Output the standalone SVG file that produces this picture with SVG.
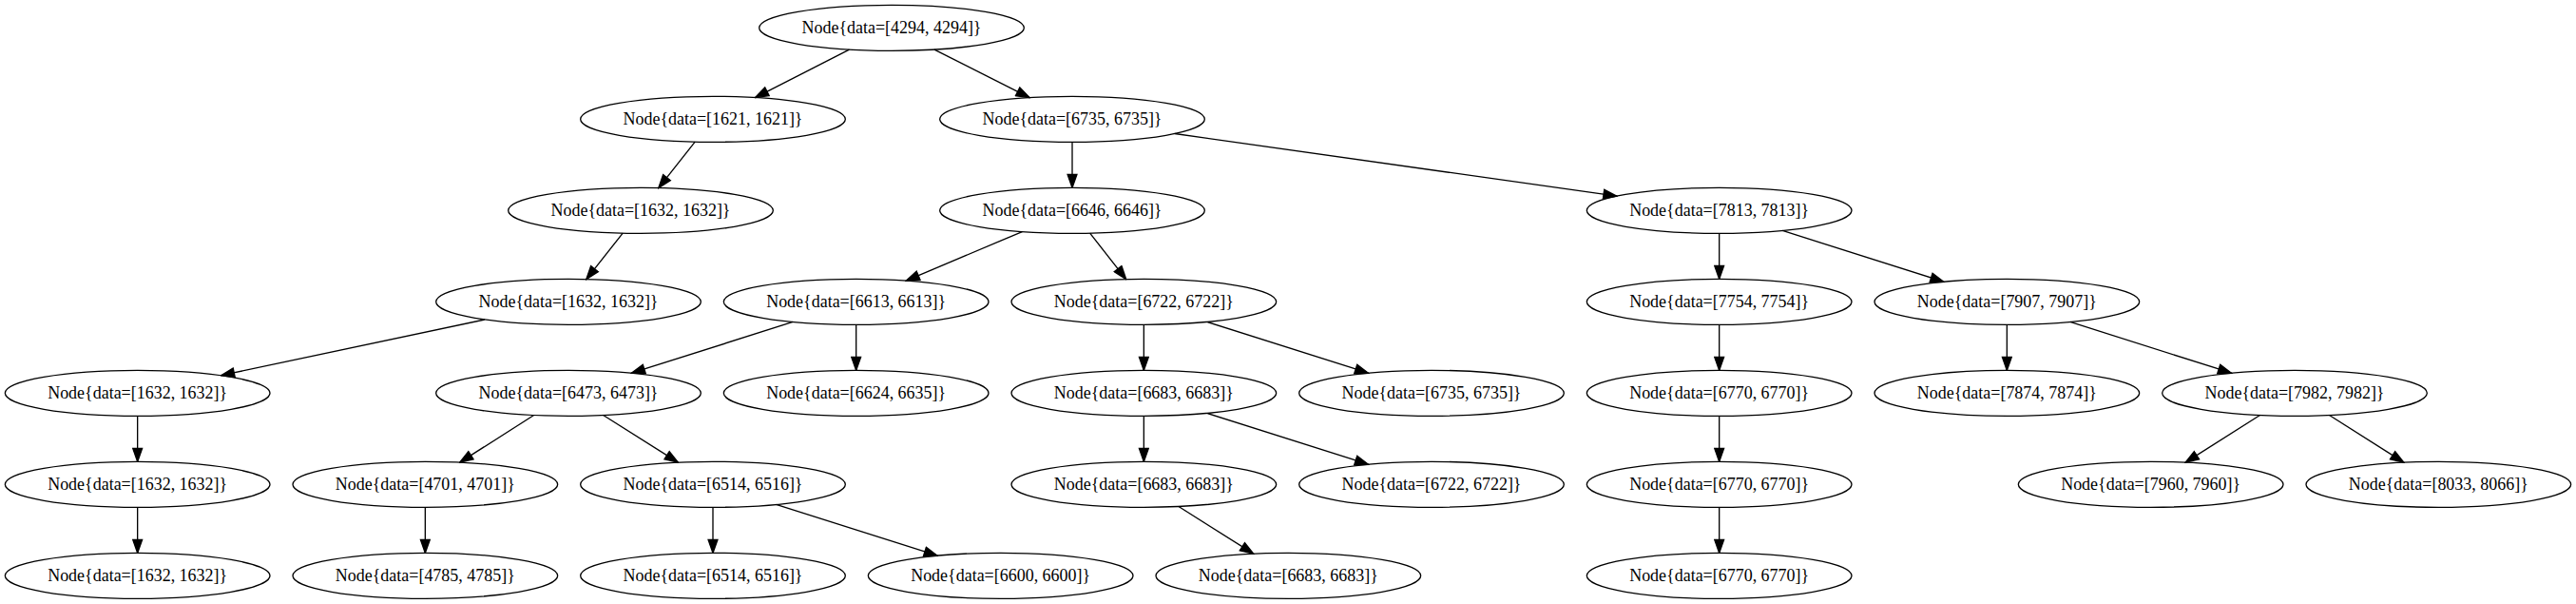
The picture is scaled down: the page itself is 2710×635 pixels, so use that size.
<svg xmlns="http://www.w3.org/2000/svg" width="2710" height="635" viewBox="0 0 2710 635">
<style>
.node ellipse{fill:none;stroke:#000;stroke-width:1.33}
.node text{font-family:"Liberation Serif","Times New Roman",serif;font-size:18.67px;text-anchor:middle;fill:#000}
#edges path{fill:none;stroke:#000;stroke-width:1.33;marker-end:url(#arr)}
</style>
<defs>
<marker id="arr" markerUnits="userSpaceOnUse" markerWidth="16" markerHeight="12" viewBox="-1 -1 15.33 11.33" refX="13.33" refY="4.67" orient="auto">
<path d="M0,0 L13.33,4.67 L0,9.33 Z" fill="#000" stroke="#000" stroke-width="1.33"/>
</marker>
</defs>
<rect width="2710" height="635" fill="#fff"/>
<g id="edges">
<path d="M893.46,52.07 L794.54,102.59"/>
<path d="M982.96,52.05 L1083.04,102.61"/>
<path d="M731.17,149.11 L692.83,197.55"/>
<path d="M655.17,245.11 L616.83,293.55"/>
<path d="M510.08,335.95 L232.59,394.71"/>
<path d="M144.67,437.33 L144.67,485.33"/>
<path d="M144.67,533.33 L144.67,581.33"/>
<path d="M1128,149.33 L1128,197.33"/>
<path d="M1235.8,140.53 L1700.87,206.13"/>
<path d="M1075.38,243.55 L953.29,295.11"/>
<path d="M1146.66,245.11 L1184.67,293.55"/>
<path d="M834.18,338.42 L664.49,392.24"/>
<path d="M900.67,341.33 L900.67,389.33"/>
<path d="M561.64,436.5 L483.69,486.16"/>
<path d="M634.66,436.48 L713.34,486.18"/>
<path d="M447.33,533.33 L447.33,581.33"/>
<path d="M750,533.33 L750,581.33"/>
<path d="M816.49,530.42 L986.18,584.24"/>
<path d="M1203.33,341.33 L1203.33,389.33"/>
<path d="M1269.82,338.42 L1439.51,392.24"/>
<path d="M1203.33,437.33 L1203.33,485.33"/>
<path d="M1269.82,434.42 L1439.51,488.24"/>
<path d="M1239.99,532.48 L1318.67,582.18"/>
<path d="M1808.67,245.33 L1808.67,293.33"/>
<path d="M1875.16,242.42 L2044.84,296.24"/>
<path d="M1808.67,341.33 L1808.67,389.33"/>
<path d="M1808.67,437.33 L1808.67,485.33"/>
<path d="M1808.67,533.33 L1808.67,581.33"/>
<path d="M2111.33,341.33 L2111.33,389.33"/>
<path d="M2177.82,338.42 L2347.51,392.24"/>
<path d="M2377.49,436.49 L2299.18,486.17"/>
<path d="M2450.51,436.49 L2528.82,486.17"/>
</g>
<g id="n0" class="node"><ellipse cx="938" cy="29.33" rx="139.33" ry="24"/><text x="938" y="35.33" textLength="189" lengthAdjust="spacingAndGlyphs">Node{data=[4294, 4294]}</text></g>
<g id="n1" class="node"><ellipse cx="750" cy="125.33" rx="139.33" ry="24"/><text x="750" y="131.33" textLength="189" lengthAdjust="spacingAndGlyphs">Node{data=[1621, 1621]}</text></g>
<g id="n2" class="node"><ellipse cx="1128" cy="125.33" rx="139.33" ry="24"/><text x="1128" y="131.33" textLength="189" lengthAdjust="spacingAndGlyphs">Node{data=[6735, 6735]}</text></g>
<g id="n3" class="node"><ellipse cx="674" cy="221.33" rx="139.33" ry="24"/><text x="674" y="227.33" textLength="189" lengthAdjust="spacingAndGlyphs">Node{data=[1632, 1632]}</text></g>
<g id="n4" class="node"><ellipse cx="1128" cy="221.33" rx="139.33" ry="24"/><text x="1128" y="227.33" textLength="189" lengthAdjust="spacingAndGlyphs">Node{data=[6646, 6646]}</text></g>
<g id="n5" class="node"><ellipse cx="1808.67" cy="221.33" rx="139.33" ry="24"/><text x="1808.67" y="227.33" textLength="189" lengthAdjust="spacingAndGlyphs">Node{data=[7813, 7813]}</text></g>
<g id="n6" class="node"><ellipse cx="598" cy="317.33" rx="139.33" ry="24"/><text x="598" y="323.33" textLength="189" lengthAdjust="spacingAndGlyphs">Node{data=[1632, 1632]}</text></g>
<g id="n7" class="node"><ellipse cx="900.67" cy="317.33" rx="139.33" ry="24"/><text x="900.67" y="323.33" textLength="189" lengthAdjust="spacingAndGlyphs">Node{data=[6613, 6613]}</text></g>
<g id="n8" class="node"><ellipse cx="1203.33" cy="317.33" rx="139.33" ry="24"/><text x="1203.33" y="323.33" textLength="189" lengthAdjust="spacingAndGlyphs">Node{data=[6722, 6722]}</text></g>
<g id="n9" class="node"><ellipse cx="1808.67" cy="317.33" rx="139.33" ry="24"/><text x="1808.67" y="323.33" textLength="189" lengthAdjust="spacingAndGlyphs">Node{data=[7754, 7754]}</text></g>
<g id="n10" class="node"><ellipse cx="2111.33" cy="317.33" rx="139.33" ry="24"/><text x="2111.33" y="323.33" textLength="189" lengthAdjust="spacingAndGlyphs">Node{data=[7907, 7907]}</text></g>
<g id="n11" class="node"><ellipse cx="144.67" cy="413.33" rx="139.33" ry="24"/><text x="144.67" y="419.33" textLength="189" lengthAdjust="spacingAndGlyphs">Node{data=[1632, 1632]}</text></g>
<g id="n12" class="node"><ellipse cx="598" cy="413.33" rx="139.33" ry="24"/><text x="598" y="419.33" textLength="189" lengthAdjust="spacingAndGlyphs">Node{data=[6473, 6473]}</text></g>
<g id="n13" class="node"><ellipse cx="900.67" cy="413.33" rx="139.33" ry="24"/><text x="900.67" y="419.33" textLength="189" lengthAdjust="spacingAndGlyphs">Node{data=[6624, 6635]}</text></g>
<g id="n14" class="node"><ellipse cx="1203.33" cy="413.33" rx="139.33" ry="24"/><text x="1203.33" y="419.33" textLength="189" lengthAdjust="spacingAndGlyphs">Node{data=[6683, 6683]}</text></g>
<g id="n15" class="node"><ellipse cx="1506" cy="413.33" rx="139.33" ry="24"/><text x="1506" y="419.33" textLength="189" lengthAdjust="spacingAndGlyphs">Node{data=[6735, 6735]}</text></g>
<g id="n16" class="node"><ellipse cx="1808.67" cy="413.33" rx="139.33" ry="24"/><text x="1808.67" y="419.33" textLength="189" lengthAdjust="spacingAndGlyphs">Node{data=[6770, 6770]}</text></g>
<g id="n17" class="node"><ellipse cx="2111.33" cy="413.33" rx="139.33" ry="24"/><text x="2111.33" y="419.33" textLength="189" lengthAdjust="spacingAndGlyphs">Node{data=[7874, 7874]}</text></g>
<g id="n18" class="node"><ellipse cx="2414" cy="413.33" rx="139.33" ry="24"/><text x="2414" y="419.33" textLength="189" lengthAdjust="spacingAndGlyphs">Node{data=[7982, 7982]}</text></g>
<g id="n19" class="node"><ellipse cx="144.67" cy="509.33" rx="139.33" ry="24"/><text x="144.67" y="515.33" textLength="189" lengthAdjust="spacingAndGlyphs">Node{data=[1632, 1632]}</text></g>
<g id="n20" class="node"><ellipse cx="447.33" cy="509.33" rx="139.33" ry="24"/><text x="447.33" y="515.33" textLength="189" lengthAdjust="spacingAndGlyphs">Node{data=[4701, 4701]}</text></g>
<g id="n21" class="node"><ellipse cx="750" cy="509.33" rx="139.33" ry="24"/><text x="750" y="515.33" textLength="189" lengthAdjust="spacingAndGlyphs">Node{data=[6514, 6516]}</text></g>
<g id="n22" class="node"><ellipse cx="1203.33" cy="509.33" rx="139.33" ry="24"/><text x="1203.33" y="515.33" textLength="189" lengthAdjust="spacingAndGlyphs">Node{data=[6683, 6683]}</text></g>
<g id="n23" class="node"><ellipse cx="1506" cy="509.33" rx="139.33" ry="24"/><text x="1506" y="515.33" textLength="189" lengthAdjust="spacingAndGlyphs">Node{data=[6722, 6722]}</text></g>
<g id="n24" class="node"><ellipse cx="1808.67" cy="509.33" rx="139.33" ry="24"/><text x="1808.67" y="515.33" textLength="189" lengthAdjust="spacingAndGlyphs">Node{data=[6770, 6770]}</text></g>
<g id="n25" class="node"><ellipse cx="2262.67" cy="509.33" rx="139.33" ry="24"/><text x="2262.67" y="515.33" textLength="189" lengthAdjust="spacingAndGlyphs">Node{data=[7960, 7960]}</text></g>
<g id="n26" class="node"><ellipse cx="2565.33" cy="509.33" rx="139.33" ry="24"/><text x="2565.33" y="515.33" textLength="189" lengthAdjust="spacingAndGlyphs">Node{data=[8033, 8066]}</text></g>
<g id="n27" class="node"><ellipse cx="144.67" cy="605.33" rx="139.33" ry="24"/><text x="144.67" y="611.33" textLength="189" lengthAdjust="spacingAndGlyphs">Node{data=[1632, 1632]}</text></g>
<g id="n28" class="node"><ellipse cx="447.33" cy="605.33" rx="139.33" ry="24"/><text x="447.33" y="611.33" textLength="189" lengthAdjust="spacingAndGlyphs">Node{data=[4785, 4785]}</text></g>
<g id="n29" class="node"><ellipse cx="750" cy="605.33" rx="139.33" ry="24"/><text x="750" y="611.33" textLength="189" lengthAdjust="spacingAndGlyphs">Node{data=[6514, 6516]}</text></g>
<g id="n30" class="node"><ellipse cx="1052.67" cy="605.33" rx="139.33" ry="24"/><text x="1052.67" y="611.33" textLength="189" lengthAdjust="spacingAndGlyphs">Node{data=[6600, 6600]}</text></g>
<g id="n31" class="node"><ellipse cx="1355.33" cy="605.33" rx="139.33" ry="24"/><text x="1355.33" y="611.33" textLength="189" lengthAdjust="spacingAndGlyphs">Node{data=[6683, 6683]}</text></g>
<g id="n32" class="node"><ellipse cx="1808.67" cy="605.33" rx="139.33" ry="24"/><text x="1808.67" y="611.33" textLength="189" lengthAdjust="spacingAndGlyphs">Node{data=[6770, 6770]}</text></g>
</svg>
